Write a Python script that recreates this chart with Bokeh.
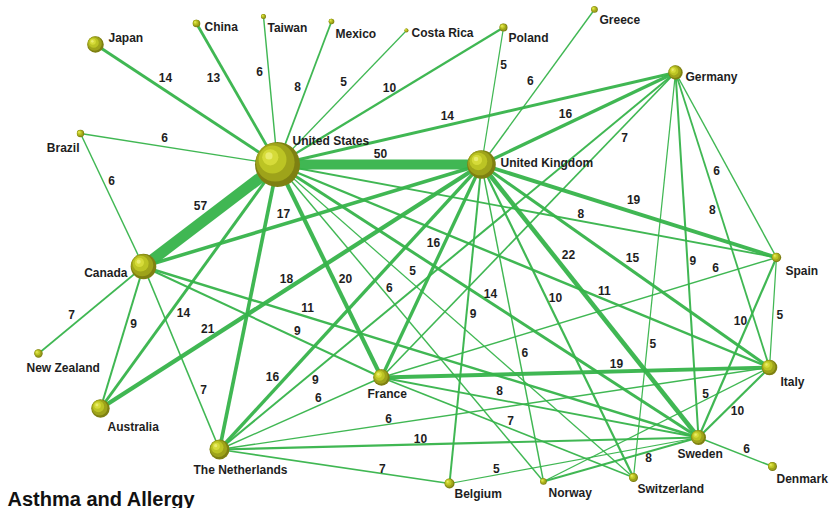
import math
from bokeh.plotting import figure
from bokeh.models import ColumnDataSource, Range1d, Label
from bokeh.core.properties import value
from bokeh.embed import file_html
from bokeh.resources import INLINE

# ---------------- data ----------------
countries = ["United States", "United Kingdom", "Canada", "Japan", "China", "Taiwan",
             "Mexico", "Costa Rica", "Poland", "Greece", "Germany", "Brazil", "Spain",
             "Italy", "New Zealand", "Australia", "The Netherlands", "France", "Belgium",
             "Norway", "Switzerland", "Sweden", "Denmark"]
# network layout coordinates (layout space, y grows downward)
node_x = [277, 481, 143, 95, 196, 263, 331, 406, 503, 594, 675, 80, 776,
          769, 38, 100, 219, 381, 449, 543, 633, 698, 772]
node_y = [164, 164, 266, 44, 23, 16, 21, 30, 27, 9, 72, 133, 257,
          367, 353, 408, 449, 377, 483, 481, 477, 437, 466]
node_size = [22.5, 14.3, 12.8, 8.3, 3.8, 2.5, 2.8, 2.0, 4.0, 3.3, 7.2, 3.7, 4.7,
             7.8, 4.2, 9.2, 10.0, 8.3, 5.0, 3.3, 4.5, 7.5, 4.5]

edge_source = ["United States"] * 18 + ["United Kingdom"] * 13 + ["Canada"] * 6 + \
              ["Germany"] * 6 + ["Spain"] * 3 + ["Italy"] * 4 + ["Sweden"] * 5 + \
              ["France"] * 2 + ["The Netherlands"]
edge_target = ["Japan", "China", "Taiwan", "Mexico", "Costa Rica", "Poland", "Germany",
               "Brazil", "United Kingdom", "Canada", "Australia", "The Netherlands",
               "France", "Switzerland", "Norway", "Sweden", "Italy", "Spain",
               "Poland", "Greece", "Germany", "Spain", "Canada", "Australia",
               "The Netherlands", "France", "Belgium", "Norway", "Switzerland", "Sweden", "Italy",
               "Brazil", "New Zealand", "Australia", "The Netherlands", "France", "Sweden",
               "France", "The Netherlands", "Spain", "Italy", "Sweden", "Switzerland",
               "France", "Italy", "Sweden",
               "France", "The Netherlands", "Sweden", "Norway",
               "France", "The Netherlands", "Belgium", "Norway", "Denmark",
               "The Netherlands", "Switzerland",
               "Belgium"]
edge_weight = [14, 13, 6, 8, 5, 10, 14, 6, 50, 57, 14, 18, 20, 5, 6, 14, 11, 8,
               5, 6, 16, 19, 17, 21, 16, 16, 9, 6, 10, 22, 15,
               6, 7, 9, 7, 9, 11,
               7, 9, 6, 8, 9, 5,
               6, 5, 10,
               19, 6, 10, 5,
               8, 10, 5, 8, 6,
               6, 7,
               7]

# ---------------- layout of the weight labels (fraction along edge, side offset) ----------------
label_t = [0.649, 0.660, 0.634, 0.524, 0.568, 0.513, 0.432, 0.581, 0.505, 0.511, 0.581, 0.378,
           0.558, 0.362, 0.402, 0.496, 0.658, 0.605,
           0.737, 0.504, 0.455, 0.503, 0.577, 0.705, 0.769, 0.387, 0.465, 0.597, 0.437, 0.357, 0.502,
           0.621, 0.631, 0.387, 0.689, 0.634, 0.291,
           0.194, 0.800, 0.501, 0.458, 0.516, 0.668,
           0.148, 0.515, 0.368,
           0.394, 0.691, 0.531, 0.272,
           0.633, 0.580, 0.807, 0.332, 0.613,
           0.371, 0.501,
           0.705]
label_d = [11.0, -12.2, -9.2, -8.8, -10.1, -7.8, -9.4, 9.2, -11.0, 14.1, -10.8, -31.5,
           -11.1, -9.5, -6.5, -7.7, -8.2, -7.2,
           5.9, -9.9, -10.1, -12.3, 10.3, 9.6, 10.3, 10.3, -6.5, -6.5, -8.4, -12.1, -11.0,
           7.9, 8.9, -6.9, -8.3, -7.1, -9.1,
           -8.4, -7.4, 10.9, 6.4, -5.5, -5.5,
           8.2, -7.0, 7.9,
           7.9, 5.6, -8.1, 5.6,
           9.2, 5.9, 6.3, -5.5, -7.3,
           7.3, -7.6,
           -5.0]

# node label placement: (dx, dy, align)
label_place = {
    "United States": (15, -24, "left"), "United Kingdom": (19, -2, "left"),
    "Canada": (-16, 6, "right"), "Japan": (13, -7, "left"), "China": (8, 3, "left"),
    "Taiwan": (4, 11, "left"), "Mexico": (4, 12, "left"), "Costa Rica": (5, 2, "left"),
    "Poland": (5, 10, "left"), "Greece": (5, 10, "left"), "Germany": (10, 4, "left"),
    "Brazil": (-1, 14, "right"), "Spain": (9, 13, "left"), "Italy": (11, 14, "left"),
    "New Zealand": (-12, 14, "left"), "Australia": (7, 18, "left"),
    "The Netherlands": (-26, 20, "left"), "France": (-14, 16, "left"),
    "Belgium": (5, 10, "left"), "Norway": (5, 11, "left"), "Switzerland": (4, 11, "left"),
    "Sweden": (-21, 16, "left"), "Denmark": (4, 12, "left"),
}

# ---------------- build ----------------
idx = {c: i for i, c in enumerate(countries)}
FONT = value("Liberation Sans")

p = figure(width=833, height=508, x_range=Range1d(0, 833), y_range=Range1d(508, 0),
           output_backend="svg", toolbar_location=None, min_border=0,
           x_axis_location=None, y_axis_location=None, title=None,
           background_fill_color="white", border_fill_color="white")
p.grid.visible = False
p.outline_line_color = None

order = sorted(range(len(edge_weight)), key=lambda k: edge_weight[k])
xs, ys, lw = [], [], []
lx, ly, lt = [], [], []
for k in order:
    a, b = idx[edge_source[k]], idx[edge_target[k]]
    xs.append([node_x[a], node_x[b]])
    ys.append([node_y[a], node_y[b]])
    lw.append(0.3 + 0.19 * edge_weight[k])
for k in range(len(edge_weight)):
    a, b = idx[edge_source[k]], idx[edge_target[k]]
    vx, vy = node_x[b] - node_x[a], node_y[b] - node_y[a]
    L = math.hypot(vx, vy)
    nx, ny = -vy / L, vx / L
    lx.append(node_x[a] + label_t[k] * vx + label_d[k] * nx)
    ly.append(node_y[a] + label_t[k] * vy + label_d[k] * ny)
    lt.append(str(edge_weight[k]))

p.multi_line(xs="xs", ys="ys", line_width="lw", line_color="#36b34a", line_alpha=0.95,
             source=ColumnDataSource(dict(xs=xs, ys=ys, lw=lw)))

p.text(x="x", y="y", text="t", source=ColumnDataSource(dict(x=lx, y=ly, t=lt)),
       text_font=FONT, text_font_size="12px", text_font_style="bold",
       text_color="#1e1e1e", text_align="center", text_baseline="middle")

# spheres
layers = [(1.0, 0.0, "#7e8012", 1.0), (0.86, 0.10, "#9ea31a", 1.0),
          (0.62, 0.22, "#bcc424", 1.0), (0.36, 0.32, "#d8de3c", 0.9),
          (0.16, 0.38, "#eef07a", 0.8)]
for scale, off, col, al in layers:
    cx = [node_x[i] - off * node_size[i] for i in range(len(countries))]
    cy = [node_y[i] - off * node_size[i] for i in range(len(countries))]
    rr = [scale * node_size[i] for i in range(len(countries))]
    p.circle(x=cx, y=cy, radius=rr, fill_color=col, fill_alpha=al, line_color=None)

for align in ("left", "right"):
    tx, ty, tt = [], [], []
    for i, c in enumerate(countries):
        dx, dy, al = label_place[c]
        if al != align:
            continue
        tx.append(node_x[i] + dx)
        ty.append(node_y[i] + dy)
        tt.append(c)
    p.text(x=tx, y=ty, text=tt, text_font=FONT, text_font_size="12px",
           text_font_style="bold", text_color="#1e1e1e", text_align=align,
           text_baseline="middle")

p.add_layout(Label(x=7, y=10, x_units="screen", y_units="screen", text="Asthma and Allergy",
                   text_font="Liberation Sans", text_font_size="20px", text_font_style="bold",
                   text_color="#111111", text_baseline="alphabetic"))

open("out.html", "w").write(file_html(p, INLINE))
